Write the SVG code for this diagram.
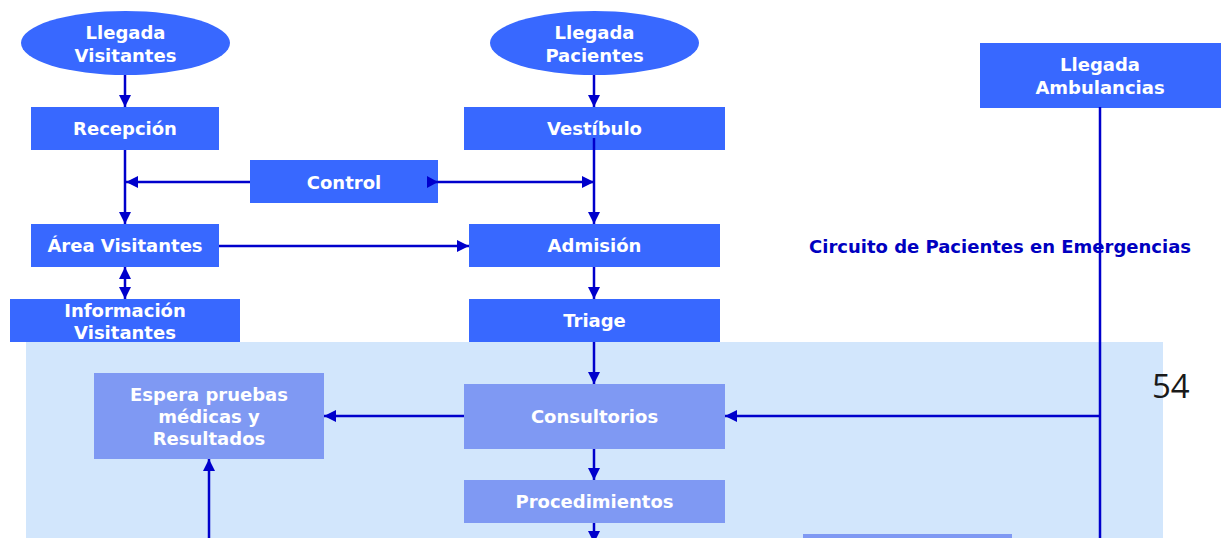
<svg xmlns="http://www.w3.org/2000/svg" width="1221" height="538" viewBox="0 0 1221 538">
<defs>
<marker id="ah" markerUnits="userSpaceOnUse" markerWidth="12" markerHeight="12" viewBox="0 0 10 10" refX="10" refY="5" orient="auto">
<path d="M0,0 L10,5 L0,10 Z" fill="#0000cc"/>
</marker>
<marker id="as" markerUnits="userSpaceOnUse" markerWidth="12" markerHeight="12" viewBox="0 0 10 10" refX="0" refY="5" orient="auto">
<path d="M10,0 L0,5 L10,10 Z" fill="#0000cc"/>
</marker>
</defs>
<style>
.n{fill:#3868ff}
.l{fill:#7f99f3}
.t{font-family:"DejaVu Sans",Verdana,sans-serif;font-weight:bold;font-size:18px;fill:#ffffff;text-anchor:middle}
.c{stroke:#0000cc;stroke-width:2.5;fill:none}
</style>
<rect width="1221" height="538" fill="#ffffff"/>
<rect id="bg" x="26" y="342" width="1137" height="196" fill="#d2e6fc"/>
<text id="title" x="809" y="253" font-family="DejaVu Sans,Verdana,sans-serif" font-weight="bold" font-size="18px" fill="#0000c0">Circuito de Pacientes en Emergencias</text>
<text id="page" x="1152" y="398" font-family="Open Sans,sans-serif" font-size="33px" fill="#1a1a1a">54</text>
<g id="llegada-visitantes"><ellipse class="n" cx="125.5" cy="43" rx="104.5" ry="32"/><text class="t" x="125.5" y="39">Llegada</text><text class="t" x="125.5" y="62">Visitantes</text></g>
<g id="llegada-pacientes"><ellipse class="n" cx="594.5" cy="43" rx="104.5" ry="32"/><text class="t" x="594.5" y="39">Llegada</text><text class="t" x="594.5" y="62">Pacientes</text></g>
<g id="recepcion"><rect class="n" x="31" y="107" width="188" height="43"/><text class="t" x="125" y="135">Recepción</text></g>
<g id="vestibulo"><rect class="n" x="464" y="107" width="261" height="43"/><text class="t" x="594.5" y="135">Vestíbulo</text></g>
<g id="control"><rect class="n" x="250" y="160" width="188" height="43"/><text class="t" x="344" y="189">Control</text></g>
<g id="area-visitantes"><rect class="n" x="31" y="224" width="188" height="43"/><text class="t" x="125" y="252">Área Visitantes</text></g>
<g id="admision"><rect class="n" x="469" y="224" width="251" height="43"/><text class="t" x="594.5" y="252">Admisión</text></g>
<g id="informacion"><rect class="n" x="10" y="299" width="230" height="43"/><text class="t" x="125" y="317">Información</text><text class="t" x="125" y="339">Visitantes</text></g>
<g id="triage"><rect class="n" x="469" y="299" width="251" height="43"/><text class="t" x="594.5" y="327">Triage</text></g>
<g id="ambulancias"><rect class="n" x="980" y="43" width="241" height="65"/><text class="t" x="1100" y="71">Llegada</text><text class="t" x="1100" y="94">Ambulancias</text></g>
<g id="espera"><rect class="l" x="94" y="373" width="230" height="86"/><text class="t" x="209" y="401">Espera pruebas</text><text class="t" x="209" y="423">médicas y</text><text class="t" x="209" y="445">Resultados</text></g>
<g id="consultorios"><rect class="l" x="464" y="384" width="261" height="65"/><text class="t" x="594.5" y="423">Consultorios</text></g>
<g id="procedimientos"><rect class="l" x="464" y="480" width="261" height="43"/><text class="t" x="594.5" y="508">Procedimientos</text></g>
<g id="bottom-box"><rect class="l" x="803" y="534" width="209" height="10"/></g>
<g id="connectors">
<line class="c" x1="125" y1="75" x2="125" y2="107" marker-end="url(#ah)"/>
<line class="c" x1="125" y1="150" x2="125" y2="224" marker-end="url(#ah)"/>
<line class="c" x1="250" y1="182" x2="126" y2="182" marker-end="url(#ah)"/>
<line class="c" x1="428" y1="182" x2="594" y2="182" marker-end="url(#ah)"/>
<path d="M427,176 L438,182 L427,188 Z" fill="#0000cc"/>
<line class="c" x1="594" y1="75" x2="594" y2="107" marker-end="url(#ah)"/>
<line class="c" x1="594" y1="138" x2="594" y2="224" marker-end="url(#ah)"/>
<line class="c" x1="219" y1="246" x2="469" y2="246" marker-end="url(#ah)"/>
<line class="c" x1="125" y1="267" x2="125" y2="299" marker-start="url(#as)" marker-end="url(#ah)"/>
<line class="c" x1="594" y1="267" x2="594" y2="299" marker-end="url(#ah)"/>
<line class="c" x1="594" y1="342" x2="594" y2="384" marker-end="url(#ah)"/>
<line class="c" x1="464" y1="416" x2="324" y2="416" marker-end="url(#ah)"/>
<line class="c" x1="594" y1="449" x2="594" y2="480" marker-end="url(#ah)"/>
<line class="c" x1="594" y1="523" x2="594" y2="543" marker-end="url(#ah)"/>
<line class="c" x1="1100" y1="107" x2="1100" y2="538"/>
<line class="c" x1="1100" y1="416" x2="725" y2="416" marker-end="url(#ah)"/>
<line class="c" x1="209" y1="538" x2="209" y2="459" marker-end="url(#ah)"/>
</g>
</svg>
